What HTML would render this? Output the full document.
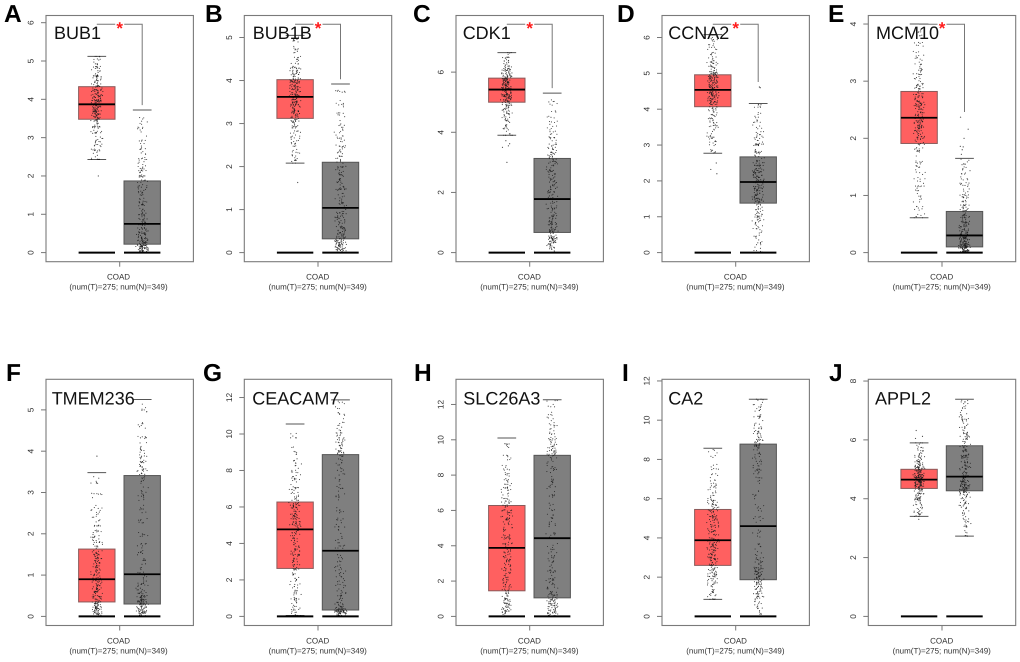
<!DOCTYPE html>
<html lang="en">
<head>
<meta charset="utf-8">
<title>COAD gene expression boxplots</title>
<style>
html,body{margin:0;padding:0;background:#fff;width:1020px;height:662px;overflow:hidden}
svg{display:block;filter:blur(0.3px)}
text{font-family:"Liberation Sans",Arial,sans-serif;text-rendering:geometricPrecision}
.letter{font-size:24.5px;font-weight:bold;fill:#000}
.gene{font-size:18px;fill:#111}
.xl{font-size:8px;fill:#333;text-anchor:middle}
</style>
</head>
<body>
<svg id="fig" width="1020" height="662" viewBox="0 0 1020 662" xmlns="http://www.w3.org/2000/svg">
<rect width="1020" height="662" fill="#fff"/>
<g id="panels"></g>
<g>
<text class="letter" x="4" y="22">A</text>
<text class="letter" x="205" y="22">B</text>
<text class="letter" x="413" y="22">C</text>
<text class="letter" x="617" y="22">D</text>
<text class="letter" x="828" y="22">E</text>
<text class="letter" x="6" y="381">F</text>
<text class="letter" x="203" y="381">G</text>
<text class="letter" x="414" y="381">H</text>
<text class="letter" x="622" y="381">I</text>
<text class="letter" x="829" y="381">J</text>
</g>
<g>
<text class="gene" x="54" y="39">BUB1</text>
<text class="gene" x="252.7" y="39">BUB1B</text>
<text class="gene" x="462.7" y="39">CDK1</text>
<text class="gene" x="668.3" y="39">CCNA2</text>
<text class="gene" x="876" y="39">MCM10</text>
<text class="gene" x="51.7" y="404.7">TMEM236</text>
<text class="gene" x="252.3" y="404.7">CEACAM7</text>
<text class="gene" x="463.3" y="404.7">SLC26A3</text>
<text class="gene" x="668.3" y="404.7">CA2</text>
<text class="gene" x="875" y="404.7">APPL2</text>
</g>
<g>
<text class="xl" x="118.5" y="279.5">COAD</text>
<text class="xl" x="118.5" y="289.5">(num(T)=275; num(N)=349)</text>
<text class="xl" x="317.7" y="279.5">COAD</text>
<text class="xl" x="317.7" y="289.5">(num(T)=275; num(N)=349)</text>
<text class="xl" x="529.4" y="279.5">COAD</text>
<text class="xl" x="529.4" y="289.5">(num(T)=275; num(N)=349)</text>
<text class="xl" x="735.4" y="279.5">COAD</text>
<text class="xl" x="735.4" y="289.5">(num(T)=275; num(N)=349)</text>
<text class="xl" x="941.7" y="279.5">COAD</text>
<text class="xl" x="941.7" y="289.5">(num(T)=275; num(N)=349)</text>
<text class="xl" x="118.5" y="643.5">COAD</text>
<text class="xl" x="118.5" y="653.5">(num(T)=275; num(N)=349)</text>
<text class="xl" x="317.7" y="643.5">COAD</text>
<text class="xl" x="317.7" y="653.5">(num(T)=275; num(N)=349)</text>
<text class="xl" x="529.4" y="643.5">COAD</text>
<text class="xl" x="529.4" y="653.5">(num(T)=275; num(N)=349)</text>
<text class="xl" x="735.4" y="643.5">COAD</text>
<text class="xl" x="735.4" y="653.5">(num(T)=275; num(N)=349)</text>
<text class="xl" x="941.7" y="643.5">COAD</text>
<text class="xl" x="941.7" y="653.5">(num(T)=275; num(N)=349)</text>
</g>
</svg>
<script>
const genes = ["BUB1","BUB1B","CDK1","CCNA2","MCM10","TMEM236","CEACAM7","SLC26A3","CA2","APPL2"];
// value at the top of the plotting range of each panel
const axisMax = [5.95,5.3,7.58,6.36,3.99,5.52,12.5,12.91,11.62,7.75];
const tickLabels = [
  [0,1,2,3,4,5,6],[0,1,2,3,4,5],[0,2,4,6],[0,1,2,3,4,5,6],[0,1,2,3,4],
  [0,1,2,3,4,5],[0,2,4,6,8,10,12],[0,2,4,6,8,10,12],[0,2,4,6,8,10,12],[0,2,4,6,8]
];
// [lower whisker, q1, median, q3, upper whisker]
const tumorStats = [
  [2.43,3.48,3.87,4.33,5.12],[2.08,3.12,3.62,4.02,5.05],[3.9,5.0,5.42,5.8,6.65],[2.77,4.07,4.54,4.96,6.08],[0.61,1.91,2.36,2.82,4.0],
  [0,0.35,0.9,1.63,3.48],[0.05,2.63,4.77,6.27,10.55],[0,1.45,3.88,6.28,10.1],[0.87,2.6,3.88,5.45,8.57],[3.4,4.35,4.65,5.0,5.9]
];
const normalStats = [
  [0,0.22,0.75,1.87,3.72],[0,0.32,1.04,2.1,3.92],[0,0.67,1.78,3.13,5.3],[0,1.38,1.97,2.67,4.16],[0,0.1,0.3,0.72,1.65],
  [0,0.3,1.02,3.41,5.25],[0,0.35,3.6,8.87,11.87],[0,1.05,4.43,9.12,12.27],[0,1.87,4.6,8.78,11.07],[2.73,4.27,4.75,5.8,7.38]
];
// value where the significance bracket's right leg stops (null = no bracket)
const bracketEnd = [3.85,4.03,5.47,4.76,2.46,null,null,null,null,null];
const tumorPoints = [
  [2.45,2.6,2.72,2.85,2.98,3.08,3.2,3.28,3.36,3.44,3.5,3.54,3.58,3.62,3.66,3.7,3.74,3.78,3.82,3.85,3.89,3.93,3.97,4.02,4.06,4.1,4.15,4.2,4.25,4.3,4.35,4.4,4.46,4.52,4.58,4.65,4.72,4.82,4.95,5.08],
  [2.1,2.25,2.4,2.52,2.65,2.75,2.85,2.95,3.02,3.08,3.16,3.22,3.27,3.32,3.38,3.42,3.47,3.51,3.55,3.6,3.65,3.69,3.73,3.77,3.81,3.85,3.88,3.92,3.96,4.0,4.05,4.1,4.15,4.2,4.27,4.35,4.45,4.58,4.75,4.95],
  [3.92,4.1,4.25,4.4,4.52,4.62,4.72,4.8,4.88,4.95,5.03,5.08,5.13,5.18,5.22,5.26,5.3,5.34,5.37,5.4,5.45,5.49,5.52,5.56,5.6,5.63,5.67,5.7,5.74,5.78,5.84,5.89,5.94,6.0,6.06,6.12,6.2,6.3,6.42,6.58],
  [2.8,3.0,3.15,3.3,3.45,3.58,3.7,3.82,3.92,4.02,4.11,4.16,4.21,4.26,4.31,4.35,4.39,4.43,4.47,4.51,4.58,4.62,4.66,4.7,4.74,4.78,4.82,4.86,4.9,4.94,5.0,5.06,5.12,5.2,5.28,5.37,5.48,5.62,5.8,6.02],
  [0.65,0.8,0.95,1.1,1.22,1.35,1.47,1.6,1.72,1.83,1.95,2.0,2.05,2.1,2.14,2.18,2.22,2.26,2.3,2.34,2.4,2.45,2.49,2.53,2.57,2.61,2.65,2.7,2.74,2.79,2.87,2.93,3.0,3.07,3.15,3.24,3.35,3.48,3.65,3.85],
  [0.02,0.05,0.08,0.12,0.15,0.19,0.22,0.26,0.29,0.33,0.38,0.43,0.48,0.53,0.58,0.64,0.69,0.75,0.8,0.86,0.95,1.02,1.08,1.15,1.22,1.3,1.37,1.44,1.52,1.59,1.7,1.78,1.88,2.0,2.12,2.28,2.45,2.65,2.95,3.3],
  [0.1,0.3,0.55,0.8,1.05,1.35,1.6,1.9,2.2,2.5,2.75,3.0,3.2,3.4,3.6,3.8,4.0,4.2,4.45,4.65,4.9,5.05,5.2,5.35,5.5,5.65,5.8,5.95,6.05,6.2,6.4,6.6,6.85,7.1,7.4,7.75,8.1,8.5,9.1,9.9],
  [0.05,0.15,0.28,0.42,0.55,0.7,0.85,1.0,1.15,1.35,1.6,1.85,2.1,2.35,2.6,2.8,3.05,3.3,3.55,3.75,4.0,4.3,4.55,4.8,5.05,5.3,5.5,5.7,5.95,6.15,6.4,6.6,6.85,7.1,7.35,7.6,7.95,8.35,8.9,9.7],
  [0.9,1.15,1.4,1.6,1.75,1.9,2.05,2.2,2.35,2.5,2.68,2.78,2.9,3.02,3.14,3.26,3.38,3.5,3.65,3.8,3.98,4.14,4.3,4.46,4.62,4.78,4.94,5.1,5.25,5.4,5.55,5.7,5.85,6.02,6.2,6.45,6.75,7.1,7.6,8.3],
  [3.42,3.55,3.68,3.8,3.9,4.0,4.08,4.16,4.24,4.3,4.38,4.41,4.44,4.47,4.5,4.53,4.56,4.58,4.6,4.63,4.68,4.71,4.74,4.77,4.8,4.83,4.86,4.9,4.94,4.98,5.03,5.08,5.13,5.18,5.24,5.3,5.38,5.5,5.65,5.82]
];
const normalPoints = [
  [0.02,0.04,0.06,0.08,0.1,0.12,0.14,0.16,0.18,0.2,0.24,0.28,0.31,0.35,0.39,0.44,0.49,0.55,0.62,0.7,0.8,0.9,0.98,1.08,1.2,1.3,1.42,1.55,1.68,1.8,1.92,2.0,2.1,2.22,2.35,2.5,2.7,2.95,3.2,3.45],
  [0.03,0.06,0.09,0.12,0.15,0.18,0.21,0.24,0.27,0.3,0.36,0.42,0.47,0.53,0.6,0.67,0.74,0.82,0.9,0.98,1.12,1.22,1.32,1.42,1.52,1.62,1.72,1.82,1.92,2.02,2.18,2.28,2.4,2.52,2.65,2.8,2.98,3.2,3.45,3.8],
  [0.1,0.18,0.25,0.32,0.38,0.43,0.48,0.53,0.58,0.63,0.72,0.8,0.88,0.96,1.05,1.15,1.28,1.42,1.55,1.7,1.88,2.0,2.12,2.25,2.38,2.5,2.65,2.8,2.92,3.05,3.2,3.3,3.42,3.55,3.7,3.85,4.05,4.3,4.6,5.0],
  [0.1,0.3,0.5,0.65,0.8,0.92,1.02,1.12,1.22,1.32,1.42,1.47,1.53,1.58,1.64,1.7,1.76,1.82,1.88,1.93,2.02,2.08,2.14,2.2,2.26,2.32,2.38,2.45,2.52,2.6,2.75,2.83,2.92,3.02,3.12,3.25,3.4,3.58,3.8,4.05],
  [0.01,0.02,0.03,0.04,0.05,0.06,0.07,0.08,0.09,0.1,0.12,0.14,0.16,0.18,0.2,0.22,0.24,0.26,0.28,0.3,0.33,0.36,0.39,0.43,0.47,0.51,0.55,0.59,0.64,0.69,0.76,0.82,0.88,0.95,1.03,1.12,1.22,1.33,1.45,1.58],
  [0.03,0.06,0.09,0.12,0.15,0.18,0.21,0.24,0.27,0.29,0.33,0.37,0.41,0.45,0.49,0.54,0.6,0.7,0.82,0.95,1.12,1.3,1.5,1.75,2.0,2.3,2.6,2.85,3.05,3.3,3.45,3.52,3.6,3.7,3.82,3.95,4.12,4.35,4.65,5.05],
  [0.04,0.08,0.12,0.16,0.2,0.24,0.27,0.3,0.33,0.34,0.45,0.6,0.8,1.05,1.35,1.7,2.05,2.4,2.8,3.2,3.8,4.2,4.7,5.2,5.9,6.5,7.0,7.6,8.1,8.6,8.95,9.05,9.2,9.4,9.6,9.85,10.1,10.5,11.0,11.6],
  [0.08,0.18,0.28,0.38,0.48,0.58,0.68,0.78,0.88,0.98,1.15,1.35,1.6,1.85,2.1,2.4,2.7,3.1,3.5,4.0,4.6,5.2,5.6,6.2,6.9,7.4,7.8,8.2,8.6,8.95,9.2,9.35,9.55,9.75,9.95,10.2,10.5,10.9,11.4,12.0],
  [0.3,0.6,0.85,1.05,1.2,1.35,1.48,1.6,1.72,1.82,1.95,2.08,2.2,2.32,2.45,2.6,2.8,3.05,3.5,4.2,5.0,5.5,6.2,6.9,7.3,7.6,7.85,8.1,8.4,8.7,8.85,8.95,9.1,9.3,9.5,9.75,10.0,10.3,10.6,10.95],
  [2.78,3.0,3.2,3.4,3.6,3.75,3.9,4.0,4.1,4.2,4.3,4.34,4.38,4.42,4.46,4.5,4.55,4.6,4.65,4.7,4.82,4.9,5.0,5.1,5.2,5.3,5.4,5.5,5.6,5.72,5.88,5.98,6.1,6.22,6.35,6.5,6.65,6.82,7.05,7.3]
];
const tumorOutliers = [[2.0],[1.63],[3.0,3.5,3.55,3.62,3.72],[2.2,2.32,2.5],[],[3.88],[],[],[],[3.3,6.05,6.12,6.32]];
const normalOutliers = [[],[],[],[4.6,4.62],[1.72,1.8,1.85,1.86,2.0,2.16,2.37],[],[],[],[],[]];

// Layout (not data)
const frameLefts = [46,244.3,456,662,868.3];
const frameTops = [15.5,379.3];
const FRAME_W = 147.4, FRAME_H = 246.2, INNER_H = 228;
const BOX_W = 36.4, CAP_W = 18.7;
const REPLICATES = 7;           // each listed reading is drawn as a small jittered clump
const SVG_NS = "http://www.w3.org/2000/svg";
const root = document.getElementById("panels");

function make(tag, attrs, parent) {
  const el = document.createElementNS(SVG_NS, tag);
  for (const k in attrs) el.setAttribute(k, attrs[k]);
  parent.appendChild(el);
  return el;
}
function scatterOffset(n) { return Math.abs(Math.sin(n * 12.9898) * 43758.5453) % 1; }

function drawGroup(g, cx, yOf, stats, points, outliers, fill, edge, groupName, seed) {
  const [low, q1, med, q3, high] = stats;
  const box = make("rect", {x: cx - BOX_W / 2, y: yOf(q3), width: BOX_W, height: yOf(q1) - yOf(q3), fill: fill, stroke: edge, "stroke-width": 1}, g);
  
  

  [low, high].forEach(function (v) {
    const cap = make("line", {x1: cx - CAP_W / 2, x2: cx + CAP_W / 2, y1: yOf(v), y2: yOf(v), stroke: "#555", "stroke-width": 1}, g);
    
    
  });

  const dots = make("g", {fill: "#1c1c1c"}, g);
  
  
  let n = seed;
  points.forEach(function (v) {
    for (let k = 0; k < REPLICATES; k++) {
      n += 3;
      const dx = (scatterOffset(n) + scatterOffset(n + 1) - 1) * 6.5;
      const dy = (scatterOffset(n + 2) - 0.5) * 8;
      const py = Math.max(yOf(high), Math.min(yOf(low), yOf(v) + dy));
      const dot = make("circle", {cx: cx + dx, cy: py, r: 0.55, opacity: 0.85}, dots);
      
      
    }
  });
  outliers.forEach(function (v, i) {
    const dx = (scatterOffset(seed + i + 1) - 0.5) * 9;
    const dot = make("circle", {cx: cx + dx, cy: yOf(v), r: 0.6, opacity: 0.8}, dots);
    
    
  });

  const median = make("line", {x1: cx - BOX_W / 2, x2: cx + BOX_W / 2, y1: yOf(med), y2: yOf(med), stroke: "#000", "stroke-width": 1.8}, g);
  
  

  const base = make("line", {x1: cx - BOX_W / 2, x2: cx + BOX_W / 2, y1: yOf(0), y2: yOf(0), stroke: "#000", "stroke-width": 2}, g);
  
  
}

genes.forEach(function (gene, idx) {
  const col = idx % 5, row = Math.floor(idx / 5);
  const left = frameLefts[col], top = frameTops[row];
  const xT = left + 50.8, xN = left + 96.2, xMid = left + FRAME_W / 2;
  const zeroY = top + FRAME_H - 9.1;
  const yOf = function (v) { return zeroY - (v / axisMax[idx]) * INNER_H; };

  const g = make("g", {}, root);
  
  

  drawGroup(g, xT, yOf, tumorStats[idx], tumorPoints[idx], tumorOutliers[idx], "#ff6060", "#8a5a5a", "tumor", idx * 1000 + 7);
  drawGroup(g, xN, yOf, normalStats[idx], normalPoints[idx], normalOutliers[idx], "#7f7f7f", "#555", "normal", idx * 1000 + 503);

  const frame = make("rect", {x: left, y: top, width: FRAME_W, height: FRAME_H, fill: "none", stroke: "#7a7a7a", "stroke-width": 1.1}, g);
  
  

  tickLabels[idx].forEach(function (t) {
    const ty = yOf(t);
    const tick = make("line", {x1: left - 5, x2: left, y1: ty, y2: ty, stroke: "#777", "stroke-width": 1}, g);
    
    
    const label = make("text", {x: 0, y: 0, transform: "translate(" + (left - 12.5) + " " + ty + ") rotate(-90)", "text-anchor": "middle", "font-size": 8.3, fill: "#333"}, g);
    
    
    label.textContent = t;
  });

  const xTick = make("line", {x1: xMid, x2: xMid, y1: top + FRAME_H, y2: top + FRAME_H + 5, stroke: "#777", "stroke-width": 1}, g);
  
  

  if (bracketEnd[idx] !== null) {
    const by = yOf(axisMax[idx]) - 0.3;
    const bracket = make("path", {d: "M" + xT + " " + by + "H" + (xMid - 4.5) + "M" + (xMid + 4.5) + " " + by + "H" + xN + "V" + yOf(bracketEnd[idx]), fill: "none", stroke: "#777", "stroke-width": 1}, g);
    
    
    const star = make("text", {x: xMid, y: by + 9.5, "text-anchor": "middle", "font-size": 17, "font-weight": "bold", fill: "#ff1a1a"}, g);
    
    
    star.textContent = "*";
  }
});
</script>
</body>
</html>
